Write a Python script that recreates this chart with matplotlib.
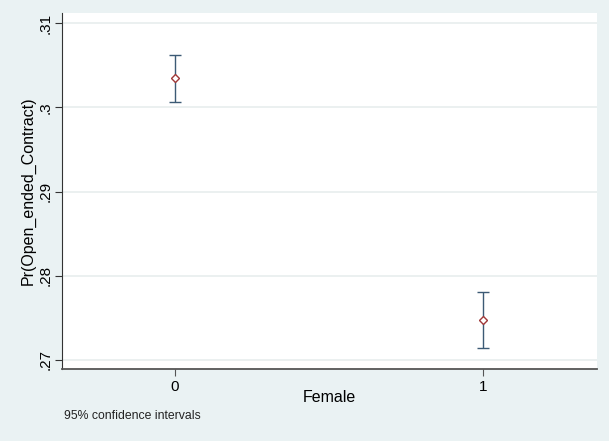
import matplotlib
matplotlib.use("Agg")
import matplotlib.pyplot as plt

plt.rcParams["font.family"] = ["Liberation Sans", "DejaVu Sans"]

categories = [0, 1]
margins = [0.3035, 0.2747]
ci_low = [0.3006, 0.2714]
ci_high = [0.3062, 0.2781]
yticks = [0.27, 0.28, 0.29, 0.30, 0.31]
ytick_labels = [".27", ".28", ".29", ".3", ".31"]

bg = "#eaf2f3"
fig = plt.figure(figsize=(6.09, 4.41), dpi=100, facecolor=bg)
ax = fig.add_axes([0.1018, 0.1633, 0.8785, 0.8072])
ax.set_facecolor("white")

yerr = [[m - l for m, l in zip(margins, ci_low)], [h - m for m, h in zip(margins, ci_high)]]
ax.errorbar(categories, margins, yerr=yerr, fmt="none", ecolor="#3c5a75",
            elinewidth=1.0, capsize=4, capthick=1.0, zorder=2)
ax.plot(categories, margins, linestyle="none", marker="D", markersize=4.5,
        markerfacecolor="white", markeredgecolor="#a03838", markeredgewidth=1.0, zorder=3)

ax.set_xlim(-0.367, 1.37)
ax.set_ylim(0.26893, 0.3112)
ax.set_xticks(categories)
ax.set_xticklabels([str(c) for c in categories], fontsize=11)
ax.set_yticks(yticks)
ax.set_yticklabels(ytick_labels, fontsize=11, rotation=90, va="center")
ax.grid(axis="y", color="#e8eded", linewidth=1.2)
ax.set_axisbelow(True)

for s in ["top", "right"]:
    ax.spines[s].set_visible(False)
ax.spines["left"].set_color("#333333")
ax.spines["bottom"].set_color("#555555")
ax.spines["bottom"].set_linewidth(1.3)
ax.spines["left"].set_linewidth(0.8)
ax.tick_params(axis="y", length=5, color="#333333", pad=2)
ax.tick_params(axis="x", length=5, color="#555555", pad=3)

ax.set_ylabel("Pr(Open_ended_Contract)", fontsize=11.5, labelpad=2)
ax.set_xlabel("Female", fontsize=11.5, labelpad=-3)
fig.text(64/609, 1 - 416/441, "95% confidence intervals", fontsize=8.8, va="center", ha="left", color="#222222")

fig.savefig("out.png", dpi=100, facecolor=bg)
